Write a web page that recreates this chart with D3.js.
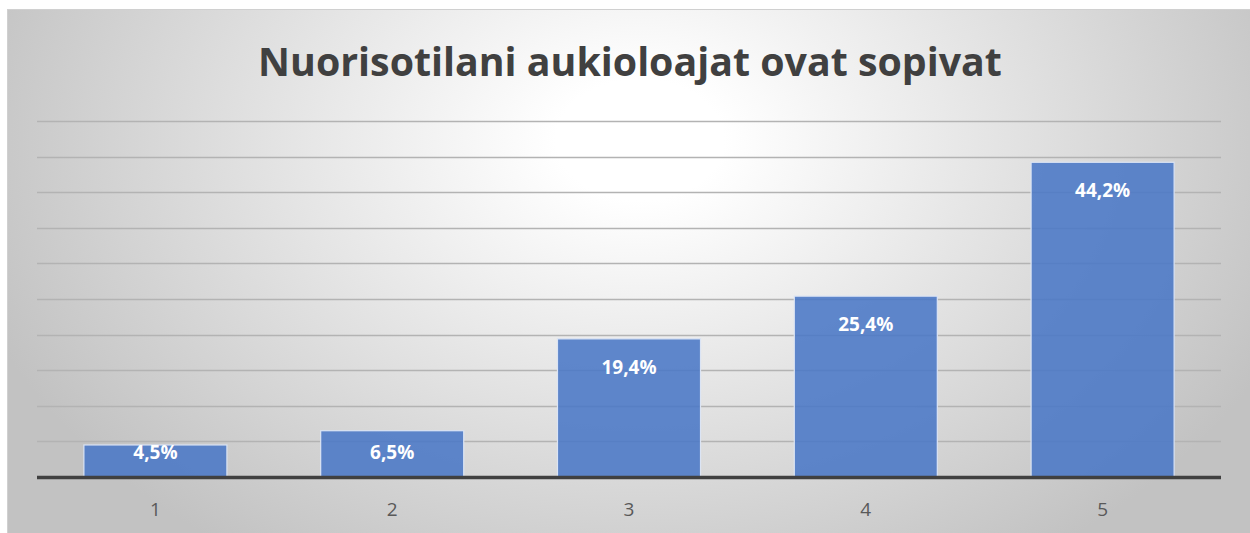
<!DOCTYPE html>
<html>
<head>
<meta charset="utf-8">
<script src="https://cdn.jsdelivr.net/npm/d3@7"></script>
<style>
  html,body{margin:0;padding:0;background:#fff;}
  svg{display:block;}
</style>
</head>
<body>
<svg id="chart" width="1250" height="533"></svg>
<script>
// Data
const title = "Nuorisotilani aukioloajat ovat sopivat";
const categories = ["1","2","3","4","5"];
const values = [4.5, 6.5, 19.4, 25.4, 44.2];
const yTicks = [0,5,10,15,20,25,30,35,40,45,50];

const W = 1250, H = 533;
const svg = d3.select("#chart");
const m = {left:37, right:1221, top:121, bottom:477};

// background gradient
const defs = svg.append("defs");
const grad = defs.append("radialGradient").attr("id","bg")
  .attr("gradientUnits","userSpaceOnUse")
  .attr("cx",640).attr("cy",140).attr("r",700)
  .attr("gradientTransform","translate(640,140) scale(1,0.72) translate(-640,-140)");
grad.append("stop").attr("offset","0%").attr("stop-color","#ffffff");
grad.append("stop").attr("offset","12%").attr("stop-color","#ffffff");
grad.append("stop").attr("offset","100%").attr("stop-color","#c2c2c2");

svg.append("rect").attr("x",7.5).attr("y",9.5).attr("width",W).attr("height",H)
  .attr("fill","url(#bg)").attr("stroke","#d0d0d0");

const x = d3.scaleBand().domain(categories).range([m.left,m.right]).paddingInner(0.396).paddingOuter(0.198);
const y = d3.scaleLinear().domain([0,50]).range([m.bottom,m.top]);

// gridlines
svg.append("g").selectAll("line").data(yTicks.slice(1)).join("line")
  .attr("x1",m.left).attr("x2",m.right)
  .attr("y1",d=>Math.round(y(d))+0.5).attr("y2",d=>Math.round(y(d))+0.5)
  .attr("stroke","#b3b3b3").attr("stroke-width",1.5);

// bars
svg.append("g").selectAll("rect").data(values).join("rect")
  .attr("x",(d,i)=>x(categories[i])).attr("width",x.bandwidth())
  .attr("y",d=>y(d)).attr("height",d=>y(0)-y(d))
  .attr("fill","#4a78c6").attr("fill-opacity",0.88)
  .attr("stroke","#dbe4f4").attr("stroke-width",1.2);

// baseline
svg.append("line").attr("x1",m.left).attr("x2",m.right)
  .attr("y1",y(0)+0.5).attr("y2",y(0)+0.5)
  .attr("stroke","#404040").attr("stroke-width",3.5);

// value labels
svg.append("g").selectAll("text").data(values).join("text")
  .attr("x",(d,i)=>x(categories[i])+x.bandwidth()/2)
  .attr("y",d=>Math.min(y(d)+28, y(0)-25))
  .attr("dy","0.35em")
  .attr("text-anchor","middle")
  .attr("font-family","'Open Sans', sans-serif").attr("font-weight",700)
  .attr("font-size",19).attr("fill","#fff")
  .text(d=>d.toFixed(1).replace(".",",")+"%");

// category labels
svg.append("g").selectAll("text").data(categories).join("text")
  .attr("x",d=>x(d)+x.bandwidth()/2).attr("y",509)
  .attr("dy","0.35em").attr("text-anchor","middle")
  .attr("font-family","'Open Sans', sans-serif").attr("font-size",19)
  .attr("fill","#595959").text(d=>d);

// title
const t = svg.append("text").attr("x",630).attr("y",76)
  .attr("text-anchor","middle")
  .attr("font-family","'Open Sans', sans-serif").attr("font-weight",700)
  .attr("font-size",42).attr("fill","#404040").text(title);
const tw = t.node().getComputedTextLength();
t.attr("font-size", 42*744/tw);
</script>
</body>
</html>
